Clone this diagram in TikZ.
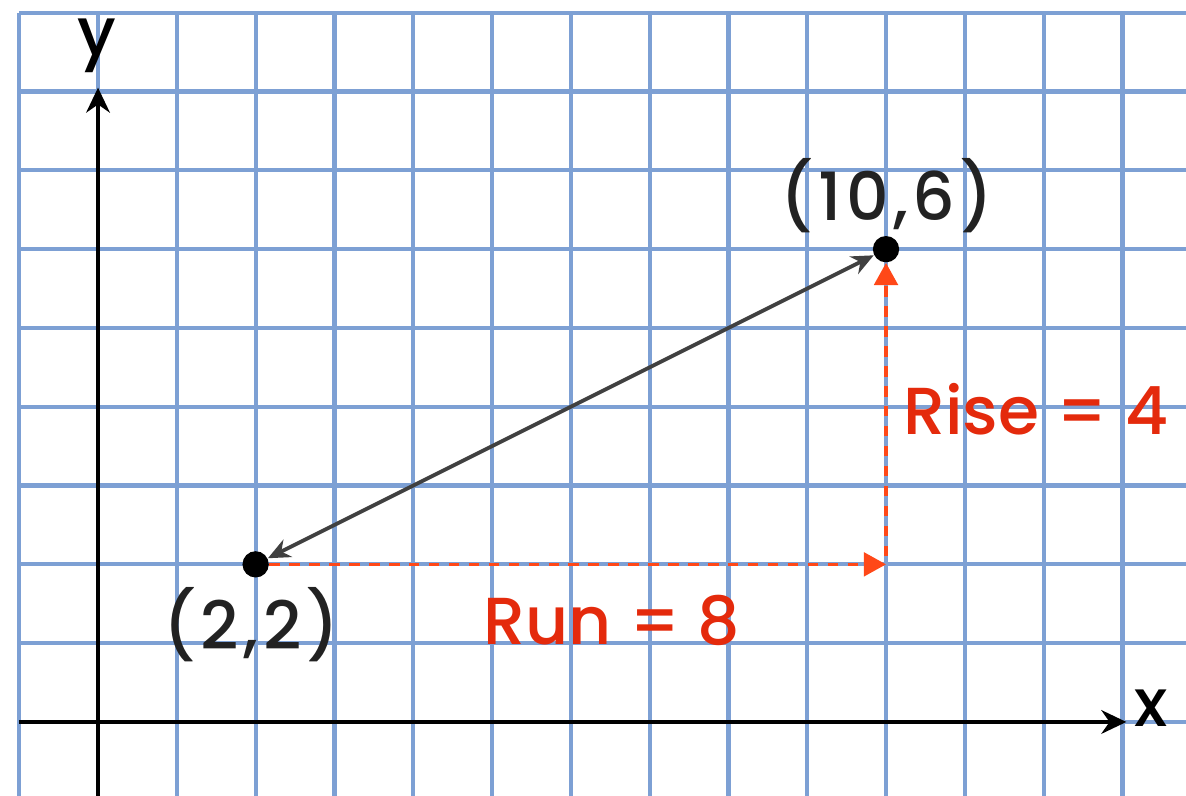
\documentclass[tikz,border=0pt]{standalone}
\usepackage{fontspec}
\setmainfont{Poppins}
\newfontfamily\labfont{Poppins Medium}
\usetikzlibrary{positioning,arrows.meta}
\definecolor{gridblue}{RGB}{125,160,212}
\definecolor{runred}{RGB}{255,72,24}
\definecolor{labred}{RGB}{228,42,12}
\definecolor{labgray}{RGB}{34,34,34}
\definecolor{slopegray}{RGB}{64,64,64}
\tikzset{
  dot/.style={circle,fill=black,inner sep=0pt,minimum size=9.5pt},
  axis/.style={line width=1.5pt,-{Stealth[length=9pt,width=8.5pt]}},
  dashline/.style={runred,line width=1.3pt,dash pattern=on 3.8pt off 3.4pt,-{Triangle[length=8pt,width=8.5pt]}},
  ptlabel/.style={labgray,inner sep=0pt,font=\labfont\fontsize{24}{28}\selectfont\addfontfeatures{LetterSpace=7}},
  redlabel/.style={labred,inner sep=0pt,font=\labfont\fontsize{24}{28}\selectfont},
}
\begin{document}
\begin{tikzpicture}
\useasboundingbox (-1.244,-0.939) rectangle (13.807,9.162);
\begin{scope}
\clip (-1.244,-0.939) rectangle (13.807,9.162);
\draw[gridblue,line width=1.5pt] (-1,-1) grid (14,9);
\end{scope}
% axes
\coordinate (xs) at (-1,0);
\coordinate (xe) at (13.05,0);
\coordinate (ys) at (0,-1);
\coordinate (ye) at (0,8.05);
\draw[axis] (xs) -- (xe);
\draw[axis] (ys) -- (ye);
\node[ptlabel,black,anchor=base west] (xlab) at (13.15,-0.06) {x};
\node[ptlabel,black,anchor=base] (ylab) at (-0.02,8.46) {y};
% points
\node[dot] (p1) at (2,2) {};
\node[dot] (p2) at (10,6) {};
\coordinate (c) at (10,2);
\node[ptlabel] (l1) at (1.94,1.23) {(2,2)};
\node[ptlabel] (l2) at (10.01,6.68) {(10,6)};
% rise and run
\draw[dashline] (p1) -- (c);
\draw[dashline] ([yshift=3pt]c) -- (p2);
\draw[slopegray,line width=1.4pt,{Stealth[length=8pt,width=7pt]}-{Stealth[length=8pt,width=7pt]}] (p2) -- (p1);
\node[redlabel] (run) at (6.52,1.29) {Run = 8};
\node[redlabel] (rise) at (11.90,3.97) {Rise = 4};
\end{tikzpicture}
\end{document}
